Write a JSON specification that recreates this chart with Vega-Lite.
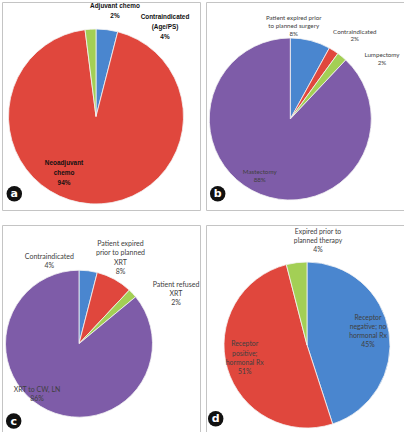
{
  "$schema": "https://vega.github.io/schema/vega-lite/v6.json",
  "padding": {"left": 1, "top": 1, "right": 0, "bottom": 0},
  "background": "white",
  "bounds": "flush",
  "columns": 2,
  "spacing": {"row": 15, "column": 6},
  "config": {
    "view": {"stroke": "#c4c4c4", "strokeWidth": 1},
    "text": {"font": "Lato", "fontSize": 6.5, "color": "#404040", "align": "center", "baseline": "middle"}
  },
  "datasets": {
    "a": [
      {"rank": 1, "cat": "Contraindicated (Age/PS)", "value": 4, "label": ["Contraindicated", "(Age/PS)", "4%"]},
      {"rank": 2, "cat": "Neoadjuvant chemo", "value": 94, "label": ["Neoadjuvant", "chemo", "94%"]},
      {"rank": 3, "cat": "Adjuvant chemo", "value": 2, "label": ["Adjuvant chemo", "2%"]}
    ],
    "b": [
      {"rank": 1, "cat": "Patient expired prior to planned surgery", "value": 8, "label": ["Patient expired prior", "to planned surgery", "8%"]},
      {"rank": 2, "cat": "Contraindicated", "value": 2, "label": ["Contraindicated", "2%"]},
      {"rank": 3, "cat": "Lumpectomy", "value": 2, "label": ["Lumpectomy", "2%"]},
      {"rank": 4, "cat": "Mastectomy", "value": 88, "label": ["Mastectomy", "88%"]}
    ],
    "c": [
      {"rank": 1, "cat": "Contraindicated", "value": 4, "label": ["Contraindicated", "4%"]},
      {"rank": 2, "cat": "Patient expired prior to planned XRT", "value": 8, "label": ["Patient expired", "prior to planned", "XRT", "8%"]},
      {"rank": 3, "cat": "Patient refused XRT", "value": 2, "label": ["Patient refused", "XRT", "2%"]},
      {"rank": 4, "cat": "XRT to CW, LN", "value": 86, "label": ["XRT to CW, LN", "86%"]}
    ],
    "d": [
      {"rank": 1, "cat": "Receptor negative; no hormonal Rx", "value": 45, "label": ["Receptor", "negative; no", "hormonal Rx", "45%"]},
      {"rank": 2, "cat": "Receptor positive; hormonal Rx", "value": 51, "label": ["Receptor", "positive;", "hormonal Rx", "51%"]},
      {"rank": 3, "cat": "Expired prior to planned therapy", "value": 4, "label": ["Expired prior to", "planned therapy", "4%"]}
    ]
  },
  "concat": [
    {
      "width": 198, "height": 208,
      "view": {"stroke": "#c4c4c4", "strokeWidth": 1},
      "layer": [
        {"data": {"name": "a"},
         "mark": {"type": "arc", "x": 94, "y": 114.5, "outerRadius": 87.5, "stroke": "#f4f4f4", "strokeWidth": 0.8},
         "encoding": {"theta": {"field": "value", "type": "quantitative", "stack": true}, "order": {"field": "rank", "type": "quantitative"},
           "color": {"field": "rank", "type": "nominal", "scale": {"domain": [1, 2, 3, 4], "range": ["#4a86cf", "#e0473d", "#a3cf55", "#7e5ca8"]}, "legend": null}}},
        {"data": {"name": "a"},
         "mark": {"type": "text", "x": 94, "y": 114.5, "radius": 99.5, "dx": 56.5, "dy": -0.6, "font": "Liberation Sans", "fontWeight": "bold", "fontSize": 6.4, "lineHeight": 9.8, "color": "#111"},
         "encoding": {"theta": {"field": "value", "type": "quantitative", "stack": true}, "order": {"field": "rank", "type": "quantitative"},
           "text": {"condition": {"test": "datum.rank === 1", "field": "label"}, "value": ""}}},
        {"data": {"name": "a"},
         "mark": {"type": "text", "x": 94, "y": 114.5, "radius": 52.5, "dx": -28.7, "dy": -5.7, "font": "Liberation Sans", "fontWeight": "bold", "fontSize": 6.4, "lineHeight": 9.8, "color": "#111"},
         "encoding": {"theta": {"field": "value", "type": "quantitative", "stack": true}, "order": {"field": "rank", "type": "quantitative"},
           "text": {"condition": {"test": "datum.rank === 2", "field": "label"}, "value": ""}}},
        {"data": {"name": "a"},
         "mark": {"type": "text", "x": 94, "y": 114.5, "radius": 99.5, "dx": 25.2, "dy": -10.9, "font": "Liberation Sans", "fontWeight": "bold", "fontSize": 6.4, "lineHeight": 9.8, "color": "#111"},
         "encoding": {"theta": {"field": "value", "type": "quantitative", "stack": true}, "order": {"field": "rank", "type": "quantitative"},
           "text": {"condition": {"test": "datum.rank === 3", "field": "label"}, "value": ""}}},
        {"data": {"values": [{"panel": "a"}]},
         "mark": {"type": "point", "filled": true, "shape": "circle", "size": 240, "color": "#111", "opacity": 1, "x": 12.3, "y": 191.7},
         "encoding": {}},
        {"data": {"values": [{"panel": "a"}]},
         "mark": {"type": "text", "x": 12.3, "y": 192.2, "font": "DejaVu Sans", "fontWeight": "bold", "fontSize": 11, "color": "white"},
         "encoding": {"text": {"field": "panel"}}}
      ]
    },
    {
      "width": 198, "height": 208,
      "view": {"stroke": "#c4c4c4", "strokeWidth": 1},
      "layer": [
        {"data": {"name": "b"},
         "mark": {"type": "arc", "x": 84.3, "y": 117, "outerRadius": 81, "stroke": "#f4f4f4", "strokeWidth": 0.8},
         "encoding": {"theta": {"field": "value", "type": "quantitative", "stack": true}, "order": {"field": "rank", "type": "quantitative"},
           "color": {"field": "rank", "type": "nominal", "scale": {"domain": [1, 2, 3, 4], "range": ["#4a86cf", "#e0473d", "#a3cf55", "#7e5ca8"]}, "legend": null}}},
        {"data": {"name": "b"},
         "mark": {"type": "text", "x": 84.3, "y": 117, "radius": 93, "dx": -19.7, "dy": -10.6, "fontSize": 6.2, "lineHeight": 7.7},
         "encoding": {"theta": {"field": "value", "type": "quantitative", "stack": true}, "order": {"field": "rank", "type": "quantitative"},
           "text": {"condition": {"test": "datum.rank === 1", "field": "label"}, "value": ""}}},
        {"data": {"name": "b"},
         "mark": {"type": "text", "x": 84.3, "y": 117, "radius": 93, "dx": 14.6, "dy": -8.85, "fontSize": 6.2, "lineHeight": 7.7},
         "encoding": {"theta": {"field": "value", "type": "quantitative", "stack": true}, "order": {"field": "rank", "type": "quantitative"},
           "text": {"condition": {"test": "datum.rank === 2", "field": "label"}, "value": ""}}},
        {"data": {"name": "b"},
         "mark": {"type": "text", "x": 84.3, "y": 117, "radius": 93, "dx": 32.4, "dy": 8.15, "fontSize": 6.2, "lineHeight": 7.7},
         "encoding": {"theta": {"field": "value", "type": "quantitative", "stack": true}, "order": {"field": "rank", "type": "quantitative"},
           "text": {"condition": {"test": "datum.rank === 3", "field": "label"}, "value": ""}}},
        {"data": {"name": "b"},
         "mark": {"type": "text", "x": 84.3, "y": 117, "radius": 48.6, "dx": -12.7, "dy": 8.25, "fontSize": 6.2, "lineHeight": 7.7},
         "encoding": {"theta": {"field": "value", "type": "quantitative", "stack": true}, "order": {"field": "rank", "type": "quantitative"},
           "text": {"condition": {"test": "datum.rank === 4", "field": "label"}, "value": ""}}},
        {"data": {"values": [{"panel": "b"}]},
         "mark": {"type": "point", "filled": true, "shape": "circle", "size": 240, "color": "#111", "opacity": 1, "x": 11.7, "y": 191.7},
         "encoding": {}},
        {"data": {"values": [{"panel": "b"}]},
         "mark": {"type": "text", "x": 11.7, "y": 192.2, "font": "DejaVu Sans", "fontWeight": "bold", "fontSize": 11, "color": "white"},
         "encoding": {"text": {"field": "panel"}}}
      ]
    },
    {
      "width": 198, "height": 207,
      "view": {"stroke": "#c4c4c4", "strokeWidth": 1},
      "layer": [
        {"data": {"name": "c"},
         "mark": {"type": "arc", "x": 77, "y": 118.7, "outerRadius": 73.5, "stroke": "#f4f4f4", "strokeWidth": 0.8},
         "encoding": {"theta": {"field": "value", "type": "quantitative", "stack": true}, "order": {"field": "rank", "type": "quantitative"},
           "color": {"field": "rank", "type": "nominal", "scale": {"domain": [1, 2, 3, 4], "range": ["#4a86cf", "#e0473d", "#a3cf55", "#7e5ca8"]}, "legend": null}}},
        {"data": {"name": "c"},
         "mark": {"type": "text", "x": 77, "y": 118.7, "radius": 85.5, "dx": -40.4, "dy": -1.55, "fontSize": 7, "lineHeight": 8.3},
         "encoding": {"theta": {"field": "value", "type": "quantitative", "stack": true}, "order": {"field": "rank", "type": "quantitative"},
           "text": {"condition": {"test": "datum.rank === 1", "field": "label"}, "value": ""}}},
        {"data": {"name": "c"},
         "mark": {"type": "text", "x": 77, "y": 118.7, "radius": 85.5, "dx": 0.3, "dy": -24.85, "fontSize": 7, "lineHeight": 9.3},
         "encoding": {"theta": {"field": "value", "type": "quantitative", "stack": true}, "order": {"field": "rank", "type": "quantitative"},
           "text": {"condition": {"test": "datum.rank === 2", "field": "label"}, "value": ""}}},
        {"data": {"name": "c"},
         "mark": {"type": "text", "x": 77, "y": 118.7, "radius": 85.5, "dx": 34.7, "dy": -0.5, "fontSize": 7, "lineHeight": 9.2},
         "encoding": {"theta": {"field": "value", "type": "quantitative", "stack": true}, "order": {"field": "rank", "type": "quantitative"},
           "text": {"condition": {"test": "datum.rank === 3", "field": "label"}, "value": ""}}},
        {"data": {"name": "c"},
         "mark": {"type": "text", "x": 77, "y": 118.7, "radius": 44.1, "dx": -23.2, "dy": 6.7, "fontSize": 7, "lineHeight": 8.4},
         "encoding": {"theta": {"field": "value", "type": "quantitative", "stack": true}, "order": {"field": "rank", "type": "quantitative"},
           "text": {"condition": {"test": "datum.rank === 4", "field": "label"}, "value": ""}}},
        {"data": {"values": [{"panel": "c"}]},
         "mark": {"type": "point", "filled": true, "shape": "circle", "size": 240, "color": "#111", "opacity": 1, "x": 11.7, "y": 196},
         "encoding": {}},
        {"data": {"values": [{"panel": "c"}]},
         "mark": {"type": "text", "x": 11.7, "y": 196.5, "font": "DejaVu Sans", "fontWeight": "bold", "fontSize": 11, "color": "white"},
         "encoding": {"text": {"field": "panel"}}}
      ]
    },
    {
      "width": 198, "height": 207,
      "view": {"stroke": "#c4c4c4", "strokeWidth": 1},
      "layer": [
        {"data": {"name": "d"},
         "mark": {"type": "arc", "x": 101, "y": 120, "outerRadius": 83, "stroke": "#f4f4f4", "strokeWidth": 0.8},
         "encoding": {"theta": {"field": "value", "type": "quantitative", "stack": true}, "order": {"field": "rank", "type": "quantitative"},
           "color": {"field": "rank", "type": "nominal", "scale": {"domain": [1, 2, 3, 4], "range": ["#4a86cf", "#e0473d", "#a3cf55", "#7e5ca8"]}, "legend": null}}},
        {"data": {"name": "d"},
         "mark": {"type": "text", "x": 101, "y": 120, "radius": 49.8, "dx": 11.8, "dy": -19.5, "fontSize": 6.8, "lineHeight": 9.2},
         "encoding": {"theta": {"field": "value", "type": "quantitative", "stack": true}, "order": {"field": "rank", "type": "quantitative"},
           "text": {"condition": {"test": "datum.rank === 1", "field": "label"}, "value": ""}}},
        {"data": {"name": "d"},
         "mark": {"type": "text", "x": 101, "y": 120, "radius": 49.8, "dx": -14.5, "dy": -14.4, "fontSize": 6.8, "lineHeight": 9.2},
         "encoding": {"theta": {"field": "value", "type": "quantitative", "stack": true}, "order": {"field": "rank", "type": "quantitative"},
           "text": {"condition": {"test": "datum.rank === 2", "field": "label"}, "value": ""}}},
        {"data": {"name": "d"},
         "mark": {"type": "text", "x": 101, "y": 120, "radius": 95, "dx": 22.9, "dy": -18.7, "fontSize": 6.8, "lineHeight": 8.8},
         "encoding": {"theta": {"field": "value", "type": "quantitative", "stack": true}, "order": {"field": "rank", "type": "quantitative"},
           "text": {"condition": {"test": "datum.rank === 3", "field": "label"}, "value": ""}}},
        {"data": {"values": [{"panel": "d"}]},
         "mark": {"type": "point", "filled": true, "shape": "circle", "size": 240, "color": "#111", "opacity": 1, "x": 9.7, "y": 193.7},
         "encoding": {}},
        {"data": {"values": [{"panel": "d"}]},
         "mark": {"type": "text", "x": 9.7, "y": 194.2, "font": "DejaVu Sans", "fontWeight": "bold", "fontSize": 11, "color": "white"},
         "encoding": {"text": {"field": "panel"}}}
      ]
    }
  ]
}
